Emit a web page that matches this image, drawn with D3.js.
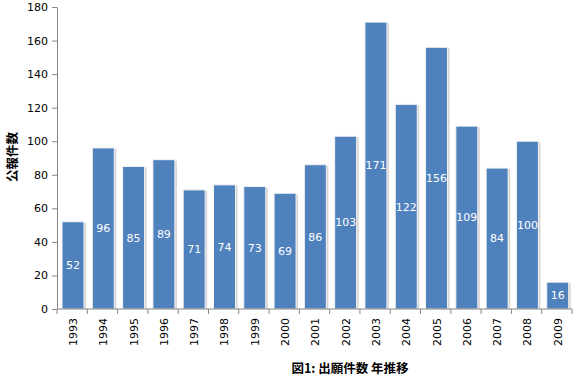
<!DOCTYPE html>
<html>
<head>
<meta charset="utf-8">
<script src="https://cdn.jsdelivr.net/npm/d3@7"></script>
<style>
body { margin: 0; background: #fff; }
svg text { font-family: "DejaVu Sans", Verdana, sans-serif; }
</style>
</head>
<body>
<div id="chart"></div>
<script>
var years = ["1993","1994","1995","1996","1997","1998","1999","2000","2001","2002","2003","2004","2005","2006","2007","2008","2009"];
var counts = [52, 96, 85, 89, 71, 74, 73, 69, 86, 103, 171, 122, 156, 109, 84, 100, 16];
var yTicks = [0, 20, 40, 60, 80, 100, 120, 140, 160, 180];

var width = 577, height = 378;
var margin = {top: 7, right: 5, bottom: 70, left: 57};

var svg = d3.select("#chart").append("svg")
    .attr("width", width)
    .attr("height", height);

var x = d3.scaleBand()
    .domain(years)
    .range([margin.left, width - margin.right]);

var y = d3.scaleLinear()
    .domain([0, 180])
    .range([height - margin.bottom + 1, margin.top]);

var data = years.map(function(d, i) { return {year: d, value: counts[i]}; });

// shadow behind bars
svg.append("g").selectAll("rect")
    .data(data)
    .enter().append("rect")
    .attr("x", function(d) { return x(d.year) + 6; })
    .attr("y", function(d) { return y(d.value) + 1; })
    .attr("width", 23)
    .attr("height", function(d) { return y(0) - y(d.value) - 1; })
    .attr("fill", "#d4d4d4");

svg.append("g").selectAll("rect")
    .data(data)
    .enter().append("rect")
    .attr("x", function(d) { return x(d.year) + 5; })
    .attr("y", function(d) { return y(d.value); })
    .attr("width", 22)
    .attr("height", function(d) { return y(0) - y(d.value); })
    .attr("fill", "#4f81bd")
    .attr("stroke", "#f4f4f4")
    .attr("stroke-width", 1);

svg.append("g").selectAll("text")
    .data(data)
    .enter().append("text")
    .attr("x", function(d) { return x(d.year) + 16; })
    .attr("y", function(d) { return (y(d.value) + y(0)) / 2; })
    .attr("dy", "0.35em")
    .attr("text-anchor", "middle")
    .attr("fill", "#fff")
    .attr("font-size", "11px")
    .text(function(d) { return d.value; });

// y axis
var yAxis = svg.append("g")
    .attr("transform", "translate(" + margin.left + ",0)")
    .call(d3.axisLeft(y).tickValues(yTicks).tickSize(5).tickSizeOuter(0));
yAxis.selectAll("text").attr("font-size", "11px").attr("fill", "#000").attr("dx", "-1");
yAxis.selectAll("line, path").attr("stroke", "#868686");

// x axis with ticks at band boundaries
var xg = svg.append("g").attr("transform", "translate(0," + y(0) + ")");
xg.append("line")
    .attr("x1", margin.left).attr("x2", width - margin.right)
    .attr("stroke", "#868686");
xg.selectAll(".tk")
    .data(d3.range(years.length + 1))
    .enter().append("line")
    .attr("x1", function(i) { return margin.left + i * x.bandwidth(); })
    .attr("x2", function(i) { return margin.left + i * x.bandwidth(); })
    .attr("y1", 0).attr("y2", 5)
    .attr("stroke", "#868686");
xg.selectAll(".lbl")
    .data(years)
    .enter().append("text")
    .attr("transform", function(d) {
        return "translate(" + (x(d) + x.bandwidth() / 2 + 1) + ",9) rotate(-90)";
    })
    .attr("text-anchor", "end")
    .attr("dy", "0.35em")
    .attr("font-size", "11px")
    .attr("fill", "#000")
    .text(function(d) { return d; });

svg.append("text")
    .attr("transform", "translate(17,157) rotate(-90)")
    .attr("text-anchor", "middle")
    .attr("font-size", "12.5px")
    .attr("font-weight", "bold")
    .style("font-family", "'Noto Sans CJK JP', sans-serif")
    .text("公報件数");

svg.append("text")
    .attr("x", 350)
    .attr("y", 373)
    .attr("text-anchor", "middle")
    .attr("font-size", "12.5px")
    .attr("font-weight", "bold")
    .style("font-family", "'Noto Sans CJK JP', sans-serif")
    .text("図1: 出願件数 年推移");
</script>
</body>
</html>
